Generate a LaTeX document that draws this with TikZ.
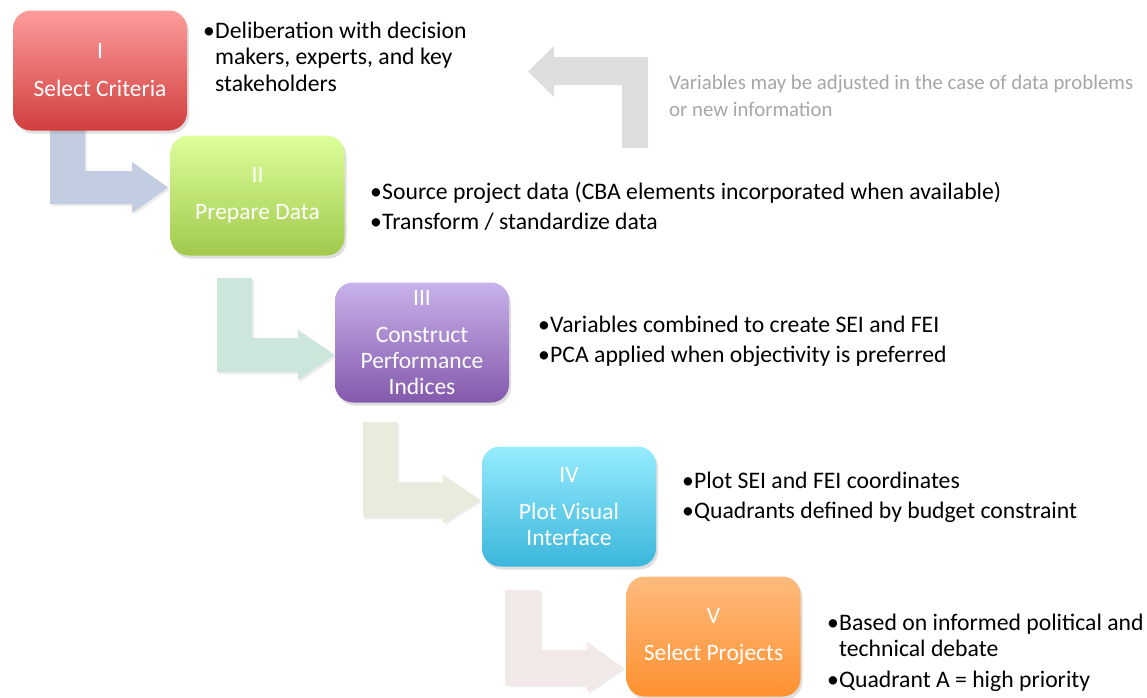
\documentclass[tikz,border=0pt]{standalone}
\usepackage{fontspec}
\setmainfont{Carlito}
\usetikzlibrary{shadows}
\definecolor{r1}{HTML}{FD9C9C}\definecolor{r2}{HTML}{D13F3D}
\definecolor{g1}{HTML}{DDFF9C}\definecolor{g2}{HTML}{A1C94C}
\definecolor{p1}{HTML}{C8B2EA}\definecolor{p2}{HTML}{8459AD}
\definecolor{c1}{HTML}{96ECFD}\definecolor{c2}{HTML}{3BB6DC}
\definecolor{o1}{HTML}{FDBB7D}\definecolor{o2}{HTML}{FE9131}
\definecolor{a1}{HTML}{C3CDE1}\definecolor{a2}{HTML}{CDE6DC}
\definecolor{a3}{HTML}{E9EBDC}\definecolor{a4}{HTML}{F2E8E8}
\definecolor{ag}{HTML}{DEDEDE}\definecolor{notegray}{HTML}{A6A6A6}
\tikzset{
  stepbox/.style={rectangle, rounded corners=18pt, minimum width=174pt, minimum height=120pt,
    inner sep=0pt, align=center, text=white, font=\fontsize{23.5}{26}\selectfont,
    drop shadow={shadow xshift=2pt, shadow yshift=-3pt, opacity=0.25}},
  bullets/.style={anchor=base west, align=left, inner sep=0pt, font=\fontsize{23.7}{26.5}\selectfont},
  blockarrow/.style={drop shadow={shadow xshift=2pt, shadow yshift=-2pt, opacity=0.15}},
}
\newcommand\bul{\makebox[12pt][l]{•}}
\begin{document}
\begin{tikzpicture}[x=1pt,y=-1pt]
\useasboundingbox (0,0) rectangle (1147,697);
% bent block arrows
\fill[a1,blockarrow] (50,125) -- (85,125) -- (85,171) -- (132,171) -- (132,162) -- (168,187.5) -- (132,213) -- (132,204) -- (50,204) -- cycle;
\fill[a2,blockarrow] (217,278) -- (252,278) -- (252,338) -- (298,338) -- (298,330) -- (335,355) -- (298,380) -- (298,372) -- (217,372) -- cycle;
\fill[a3,blockarrow] (363,422) -- (397,422) -- (397,482) -- (443,482) -- (443,475) -- (480,499.5) -- (443,523) -- (443,517) -- (363,517) -- cycle;
\fill[a4,blockarrow] (505,590) -- (540,590) -- (540,650) -- (587,650) -- (587,642) -- (623,667.5) -- (587,692) -- (587,685) -- (505,685) -- cycle;
% return arrow
\fill[ag] (648,57) -- (554,57) -- (554,46) -- (528,71.5) -- (554,97) -- (554,85) -- (622,85) -- (622,148) -- (648,148) -- cycle;
% boxes
\node[stepbox, top color=r1, bottom color=r2] (b1) at (100,70.5) {I\\[12pt]Select Criteria};
\node[stepbox, top color=g1, bottom color=g2] (b2) at (257.5,195.5) {II\\[11pt]Prepare Data};
\node[stepbox, top color=p1, bottom color=p2] (b3) at (422,342.5) {III\\[11pt]Construct\\Performance\\Indices};
\node[stepbox, top color=c1, bottom color=c2] (b4) at (569,506.5) {IV\\[11pt]Plot Visual\\Interface};
\node[stepbox, top color=o1, bottom color=o2] (b5) at (713.5,636.5) {V\\[11pt]Select Projects};
% bullet texts (anchored at the baseline of the last line)
\node[bullets] (t1) at (203,91) {\bul Deliberation with decision\\\hphantom{\bul}makers, experts, and key\\\hphantom{\bul}stakeholders};
\node[bullets] (t2) at (370,229) {\bul Source project data (CBA elements incorporated when available)\\[3.5pt]\bul Transform / standardize data};
\node[bullets] (t3) at (538,362) {\bul Variables combined to create SEI and FEI\\[3.5pt]\bul PCA applied when objectivity is preferred};
\node[bullets] (t4) at (682,518) {\bul Plot SEI and FEI coordinates\\[3pt]\bul Quadrants defined by budget constraint};
\node[bullets] (t5) at (827,687) {\bul Based on informed political and\\\hphantom{\bul}technical debate\\[4pt]\bul Quadrant A = high priority};
\node[anchor=base west, align=left, inner sep=0pt, text=notegray, font=\fontsize{20.8}{27}\selectfont] (note) at (669,116) {Variables may be adjusted in the case of data problems\\or new information};
\end{tikzpicture}
\end{document}
